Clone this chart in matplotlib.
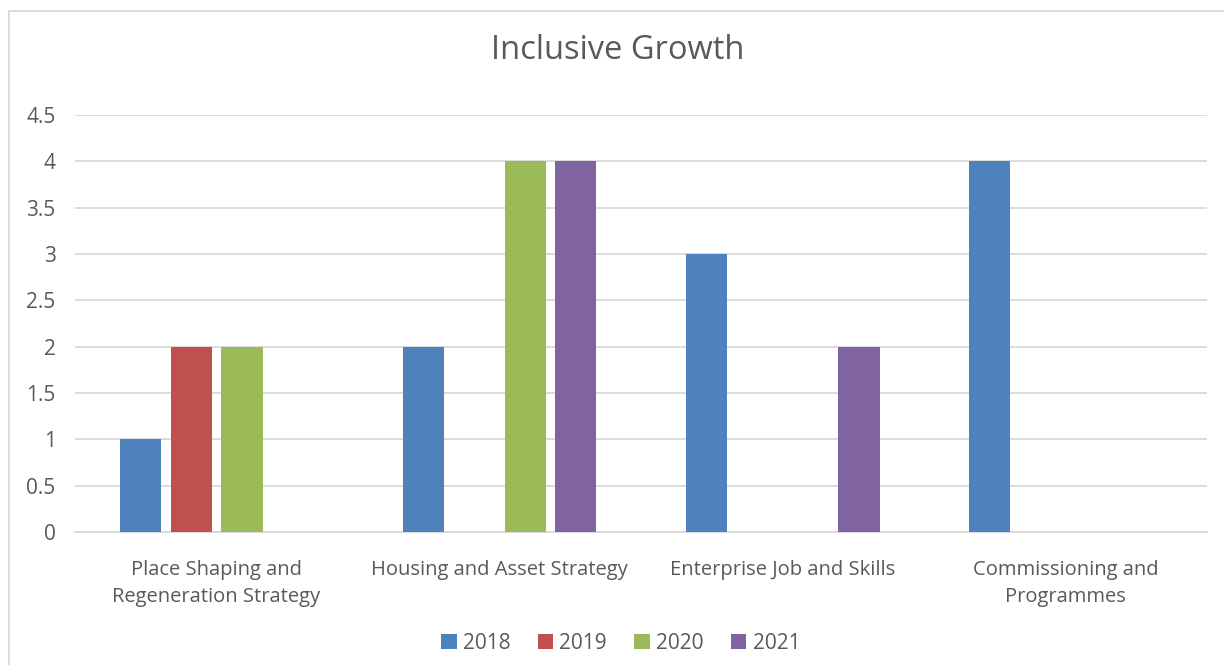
import numpy as np
import matplotlib.pyplot as plt
from matplotlib.patches import Rectangle

plt.rcParams['font.family'] = ['Open Sans', 'DejaVu Sans']

categories = ["Place Shaping and\nRegeneration Strategy", "Housing and Asset Strategy",
              "Enterprise Job and Skills", "Commissioning and\nProgrammes"]
years = ["2018", "2019", "2020", "2021"]
v2018 = [1, 2, 3, 4]
v2019 = [2, 0, 0, 0]
v2020 = [2, 4, 0, 0]
v2021 = [0, 4, 2, 0]
colors = ["#4F81BD", "#C0504D", "#9BBB59", "#8064A2"]

text_col = "#595959"
fig = plt.figure(figsize=(12.24, 6.65), dpi=100)
ax = fig.add_axes([0.0613, 0.2, 0.9249, 0.627])

x = np.arange(len(categories))
width = 0.145
step = 0.18
for i, (vals, yr) in enumerate(zip([v2018, v2019, v2020, v2021], years)):
    ax.bar(x + (i - 1.5) * step, vals, width, color=colors[i], label=yr, zorder=3)

ax.set_xlim(-0.5, 3.5)
ax.set_ylim(0, 4.5)
ax.set_yticks(np.arange(0, 4.51, 0.5))
ax.set_yticklabels(["0", "0.5", "1", "1.5", "2", "2.5", "3", "3.5", "4", "4.5"])
ax.yaxis.grid(True, color="#D9D9D9", linewidth=1.3, zorder=0)
for s in ["top", "right", "left"]:
    ax.spines[s].set_visible(False)
ax.spines["bottom"].set_color("#D9D9D9")
ax.spines["bottom"].set_linewidth(1.3)
ax.tick_params(axis="both", length=0, colors=text_col, labelsize=14.5)
ax.tick_params(axis="y", labelsize=15, pad=14)
ax.tick_params(axis="x", pad=20)
ax.set_xticks(x)
ax.set_xticklabels(categories, linespacing=1.5)

fig.text(0.505, 0.924, "Inclusive Growth", ha="center", va="center", fontsize=23.5, color=text_col)

handles, labels = ax.get_legend_handles_labels()
fig.legend(handles, labels, loc="center", bbox_to_anchor=(0.507, 0.033), ncol=4, frameon=False,
           fontsize=15, labelcolor=text_col, handlelength=0.75, handleheight=0.75,
           handletextpad=0.3, columnspacing=1.3)

fig.patches.append(Rectangle((9 / 1224, -0.1), 1.2, 1 - 11 / 665 + 0.1, transform=fig.transFigure,
                             fill=False, edgecolor="#D9D9D9", linewidth=1.3))

fig.savefig("out.png", dpi=100)
